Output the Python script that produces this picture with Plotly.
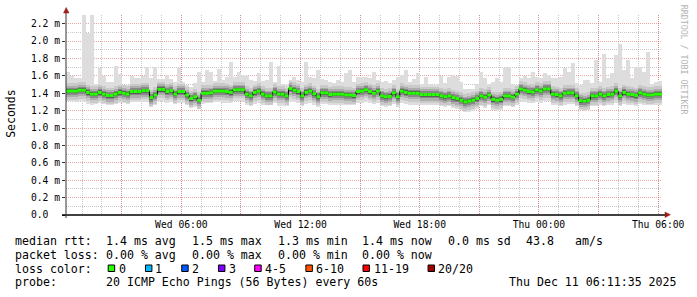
import plotly.graph_objects as go
import pandas as pd

# ---------------- data ----------------
START = "2025-12-10 00:11:35"
END = "2025-12-11 06:11:35"
STEP_MIN = 12

median_ms = [
    1.425, 1.425, 1.425, 1.435, 1.435, 1.41, 1.39, 1.39, 1.41, 1.39,
    1.375, 1.375, 1.39, 1.41, 1.40, 1.39, 1.42, 1.42, 1.42, 1.43,
    1.43, 1.35, 1.38, 1.445, 1.445, 1.42, 1.43, 1.39, 1.42, 1.42,
    1.38, 1.34, 1.36, 1.32, 1.40, 1.40, 1.405, 1.425, 1.425, 1.425,
    1.42, 1.41, 1.44, 1.44, 1.44, 1.39, 1.37, 1.41, 1.425, 1.39,
    1.37, 1.37, 1.415, 1.39, 1.39, 1.37, 1.455, 1.435, 1.42, 1.37,
    1.41, 1.425, 1.395, 1.36, 1.405, 1.405, 1.385, 1.39, 1.39, 1.39,
    1.38, 1.38, 1.375, 1.42, 1.425, 1.44, 1.42, 1.40, 1.425, 1.37,
    1.36, 1.365, 1.405, 1.36, 1.425, 1.41, 1.40, 1.40, 1.40, 1.385,
    1.385, 1.385, 1.385, 1.385, 1.37, 1.36, 1.37, 1.35, 1.34, 1.32,
    1.30, 1.31, 1.32, 1.34, 1.37, 1.355, 1.38, 1.33, 1.32, 1.33,
    1.37, 1.37, 1.355, 1.39, 1.45, 1.435, 1.42, 1.415, 1.44, 1.425,
    1.45, 1.45, 1.39, 1.385, 1.37, 1.40, 1.405, 1.405, 1.37, 1.315,
    1.31, 1.32, 1.37, 1.37, 1.39, 1.37, 1.385, 1.39, 1.425, 1.37,
    1.41, 1.39, 1.385, 1.375, 1.405, 1.39, 1.38, 1.38, 1.39, 1.39,
]
max_ms = [
    1.65, 1.60, 1.57, 1.58, 2.30, 2.09, 2.30, 1.51, 1.69, 1.60,
    1.53, 1.53, 1.71, 1.62, 1.49, 1.49, 1.60, 1.57, 1.57, 1.60,
    1.70, 1.57, 1.70, 1.56, 1.56, 1.61, 1.56, 1.53, 1.69, 1.53,
    1.49, 1.47, 1.52, 1.64, 1.53, 1.67, 1.65, 1.54, 1.68, 1.55,
    1.59, 1.76, 1.59, 1.65, 1.61, 1.60, 1.55, 1.54, 1.63, 1.54,
    1.55, 1.76, 1.53, 1.71, 1.51, 1.50, 1.55, 1.59, 1.55, 1.53,
    1.76, 1.59, 1.57, 1.67, 1.56, 1.55, 1.53, 1.52, 1.55, 1.53,
    1.63, 1.67, 1.53, 1.59, 1.59, 1.59, 1.57, 1.64, 1.55, 1.53,
    1.54, 1.52, 1.55, 1.59, 1.61, 1.67, 1.53, 1.56, 1.63, 1.51,
    1.59, 1.51, 1.50, 1.51, 1.60, 1.52, 1.59, 1.61, 1.60, 1.53,
    1.45, 1.45, 1.45, 1.51, 1.65, 1.57, 1.51, 1.53, 1.57, 1.53,
    1.69, 1.70, 1.51, 1.50, 1.58, 1.60, 1.57, 1.64, 1.59, 1.57,
    1.63, 1.61, 1.57, 1.57, 1.59, 1.69, 1.64, 1.75, 1.52, 1.50,
    1.55, 1.55, 1.52, 1.78, 1.53, 1.85, 1.57, 1.63, 1.84, 1.97,
    1.67, 1.78, 1.57, 1.70, 1.70, 1.65, 1.88, 1.51, 1.53, 1.54,
]
min_ms = [
    1.31, 1.31, 1.30, 1.31, 1.30, 1.28, 1.27, 1.28, 1.29, 1.28,
    1.27, 1.27, 1.28, 1.29, 1.29, 1.28, 1.30, 1.30, 1.30, 1.30,
    1.30, 1.24, 1.27, 1.31, 1.31, 1.29, 1.30, 1.28, 1.29, 1.29,
    1.26, 1.23, 1.24, 1.22, 1.28, 1.29, 1.29, 1.30, 1.30, 1.29,
    1.29, 1.29, 1.31, 1.31, 1.30, 1.26, 1.25, 1.28, 1.29, 1.27,
    1.26, 1.26, 1.29, 1.25, 1.25, 1.25, 1.31, 1.30, 1.29, 1.25,
    1.28, 1.29, 1.27, 1.24, 1.28, 1.28, 1.27, 1.27, 1.27, 1.27,
    1.26, 1.26, 1.26, 1.29, 1.29, 1.30, 1.29, 1.28, 1.29, 1.25,
    1.24, 1.25, 1.28, 1.24, 1.29, 1.28, 1.27, 1.27, 1.27, 1.26,
    1.26, 1.26, 1.26, 1.26, 1.25, 1.24, 1.25, 1.23, 1.22, 1.21,
    1.19, 1.19, 1.20, 1.22, 1.25, 1.23, 1.26, 1.21, 1.20, 1.21,
    1.25, 1.25, 1.24, 1.27, 1.31, 1.30, 1.29, 1.29, 1.30, 1.29,
    1.31, 1.31, 1.27, 1.26, 1.25, 1.27, 1.28, 1.28, 1.25, 1.21,
    1.20, 1.21, 1.25, 1.25, 1.27, 1.25, 1.26, 1.27, 1.29, 1.25,
    1.28, 1.27, 1.26, 1.25, 1.28, 1.27, 1.26, 1.26, 1.27, 1.27,
]

y_tick_values = [0.0, 0.2, 0.4, 0.6, 0.8, 1.0, 1.2, 1.4, 1.6, 1.8, 2.0, 2.2]
y_tick_labels = ["0.0\u00a0\u00a0", "0.2 m", "0.4 m", "0.6 m", "0.8 m", "1.0 m",
                 "1.2 m", "1.4 m", "1.6 m", "1.8 m", "2.0 m", "2.2 m"]
y_minor_values = [0.1, 0.3, 0.5, 0.7, 0.9, 1.1, 1.3, 1.5, 1.7, 1.9, 2.1, 2.3]
x_tick_values = ["2025-12-10 03:00", "2025-12-10 06:00", "2025-12-10 09:00",
                 "2025-12-10 12:00", "2025-12-10 15:00", "2025-12-10 18:00",
                 "2025-12-10 21:00", "2025-12-11 00:00", "2025-12-11 03:00",
                 "2025-12-11 06:00"]
x_tick_labels = ["", "Wed 06:00", "", "Wed 12:00", "", "Wed 18:00", "",
                 "Thu 00:00", "", "Thu 06:00"]

stats_rtt = ["median rtt:", "1.4 ms avg", "1.5 ms max", "1.3 ms min",
             "1.4 ms now", "0.0 ms sd", "43.8", "am/s"]
stats_loss = ["packet loss:", "0.00 % avg", "0.00 % max", "0.00 % min",
              "0.00 % now"]
loss_labels = ["0", "1", "2", "3", "4-5", "6-10", "11-19", "20/20"]
loss_colors = ["#26ff00", "#00b8ff", "#0059ff", "#7e00ff", "#ff00ff",
               "#ff5500", "#ff0000", "#a10000"]
probe_text = ["probe:", "20 ICMP Echo Pings (56 Bytes) every 60s",
              "Thu Dec 11 06:11:35 2025"]

# ---------------- layout geometry (pixels) ----------------
W, H = 697, 297
PL, PR, PT, PB = 66, 31, 15, 82
PW, PH = W - PL - PR, H - PT - PB
MONO = "DejaVu Sans Mono"


def px(x):
    return (x - PL) / PW


def py(y):
    return (PT + PH - y) / PH


t0 = pd.Timestamp(START)
step = pd.Timedelta(minutes=STEP_MIN)
n = len(median_ms)
lefts = [t0 + step * k for k in range(n)]
centers = [l + step / 2 for l in lefts]
step_ms = STEP_MIN * 60 * 1000

fig = go.Figure()

# smoke: outer band min..max, then darker bands toward the median
fig.add_trace(go.Bar(x=centers, y=[h - l for h, l in zip(max_ms, min_ms)],
                     base=min_ms, width=step_ms,
                     marker=dict(color="#dddddd", line=dict(width=0)),
                     hoverinfo="skip"))
smoke_levels = [(0.09, 0.10, "#c9c9c9"), (0.06, 0.07, "#adadad"),
                (0.04, 0.045, "#888888"), (0.022, 0.025, "#5a5a5a")]
for up, down, col in smoke_levels:
    bot = [max(lo, m - down) for lo, m in zip(min_ms, median_ms)]
    top = [min(hi, m + up) for hi, m in zip(max_ms, median_ms)]
    fig.add_trace(go.Bar(x=centers, y=[t - b for t, b in zip(top, bot)],
                         base=bot, width=step_ms,
                         marker=dict(color=col, line=dict(width=0)),
                         hoverinfo="skip"))

# median: dark step line (vertical joins) + green horizontal segments on top
fig.add_trace(go.Scatter(x=lefts + [lefts[-1] + step], y=median_ms + [median_ms[-1]],
                         mode="lines", line=dict(shape="hv", color="#000000", width=1),
                         hoverinfo="skip"))
gx, gy = [], []
for l, m in zip(lefts, median_ms):
    gx += [l, l + step, None]
    gy += [m, m, None]
fig.add_trace(go.Scatter(x=gx, y=gy, mode="lines",
                         line=dict(color=loss_colors[0], width=3),
                         hoverinfo="skip", connectgaps=False))

grid_gray = "rgba(143,143,143,0.5)"
grid_red = "rgba(222,79,79,0.5)"

fig.update_layout(
    width=W, height=H, autosize=False,
    margin=dict(l=PL, r=PR, t=PT, b=PB, pad=0),
    paper_bgcolor="white", plot_bgcolor="white",
    showlegend=False, barmode="overlay", bargap=0,
    font=dict(family=MONO, color="#000000"),
    xaxis=dict(type="date", range=[START, END], tickmode="array",
               tickvals=x_tick_values, ticktext=x_tick_labels,
               showgrid=True, gridcolor=grid_red, gridwidth=1, griddash="1px,1px",
               ticks="", showline=False, zeroline=False,
               tickfont=dict(family=MONO, size=9.7, color="#000000"),
               ticklabelstandoff=2,
               minor=dict(tickmode="array",
                          tickvals=[t0.floor("h") + pd.Timedelta(hours=h) for h in range(1, 31)],
                          showgrid=True, gridcolor=grid_gray, gridwidth=1, griddash="1px,1px")),
    yaxis=dict(range=[0, 2.3], tickmode="array", tickvals=y_tick_values,
               ticktext=y_tick_labels, showgrid=True, gridcolor=grid_red,
               gridwidth=1, griddash="1px,1px", ticks="outside", ticklen=3,
               tickcolor="#333333", showline=False, zeroline=False,
               tickfont=dict(family=MONO, size=9.7, color="#000000"),
               minor=dict(tickmode="array", tickvals=y_minor_values, showgrid=True,
                          gridcolor=grid_gray, gridwidth=1, griddash="1px,1px")),
)

shapes = []
# axis lines
shapes.append(dict(type="line", xref="paper", yref="paper", x0=px(62), x1=px(669),
                   y0=py(215), y1=py(215), line=dict(color="#000000", width=1.5)))
shapes.append(dict(type="line", xref="paper", yref="paper", x0=px(66), x1=px(66),
                   y0=py(218), y1=py(12), line=dict(color="#333333", width=1)))


def tri(points):
    p = "M " + " L ".join(f"{px(a)},{py(b)}" for a, b in points) + " Z"
    return dict(type="path", xref="paper", yref="paper", path=p,
                fillcolor="#a01a1a", line=dict(color="#a01a1a", width=0.5))


shapes.append(tri([(63.5, 13), (69, 13), (66.2, 7.5)]))
shapes.append(tri([(669, 212), (669, 217.5), (674.5, 214.7)]))

annotations = []


def txt(s, x, y, size=11.6, color="#000000"):
    annotations.append(dict(text=s, xref="paper", yref="paper", x=px(x), y=py(y),
                            xanchor="left", yanchor="middle", showarrow=False,
                            borderpad=0, borderwidth=0,
                            font=dict(family=MONO, size=size, color=color)))


for s, x in zip(stats_rtt, [15, 106.3, 193, 279, 364, 450.7, 529, 578.3]):
    txt(s, x, 241)
for s, x in zip(stats_loss, [15, 106.3, 193, 279, 364]):
    txt(s, x, 255)
txt("loss color:", 15, 268.7)
sq_x = [108.5, 146, 182.5, 219.5, 256, 307.5, 365, 430.5]
lab_x = [119, 155.7, 193, 229.7, 266.3, 317.3, 375.7, 440.7]
for lab, col, sx, lx in zip(loss_labels, loss_colors, sq_x, lab_x):
    shapes.append(dict(type="rect", xref="paper", yref="paper", x0=px(sx), x1=px(sx + 6.5),
                       y0=py(271.5), y1=py(265), fillcolor=col,
                       line=dict(color="#000000", width=1)))
    txt(lab, lx, 268.7)
for s, x in zip(probe_text, [15, 106.3, 512.3]):
    txt(s, x, 282.3)

# axis title and watermark
annotations.append(dict(text="Seconds", xref="paper", yref="paper", x=px(10.5), y=py(114),
                        xanchor="center", yanchor="middle", textangle=-90, showarrow=False,
                        font=dict(family=MONO, size=11.5, color="#000000")))
annotations.append(dict(text="RRDTOOL / TOBI OETIKER", xref="paper", yref="paper",
                        x=px(688.5), y=py(60), xanchor="center", yanchor="middle",
                        textangle=90, showarrow=False,
                        font=dict(family=MONO, size=8.3, color="#b4b4b4")))

fig.update_layout(shapes=shapes, annotations=annotations)
fig.write_html("out.html")
